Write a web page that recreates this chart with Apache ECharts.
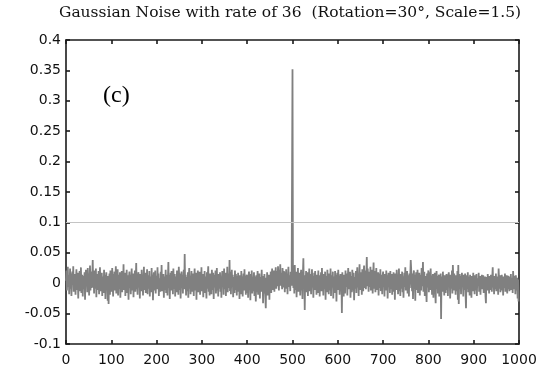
<!DOCTYPE html>
<html>
<head>
<meta charset="utf-8">
<script src="https://cdn.jsdelivr.net/npm/echarts@6/dist/echarts.min.js"></script>
<style>
  html, body { margin: 0; padding: 0; background: #fff; }
  #chart { width: 557px; height: 376px; }
</style>
</head>
<body>
<div id="chart"></div>
<script>
// Matched-filter output: one sample per index, 0..999
const signal = [
  .004,.021,-.012,.009,.027,-.006,.013,-.018,.002,.024,-.009,.016,-.021,.007,.019,-.003,.028,-.014,.011,-.007,
  .015,-.019,.006,.023,-.011,.003,.017,-.025,.010,-.004,.020,-.013,.008,.026,-.016,.001,.014,-.022,.012,.005,
  -.010,.018,-.027,.009,.022,-.005,.011,-.015,.025,-.002,.016,-.020,.007,.029,-.012,.004,.019,-.008,.013,.038,
  -.006,.012,-.017,.021,-.009,.003,.024,-.023,.010,.015,-.011,.006,.020,-.018,.002,.026,-.013,.009,-.004,.017,
  -.021,.011,.005,-.016,.022,-.007,.013,-.026,.008,.018,-.010,.003,-.029,.012,-.034,.006,.016,-.019,.021,-.008,
  .010,-.014,.025,.001,-.022,.015,-.005,.019,-.012,.007,.028,-.017,.011,-.003,.023,-.020,.004,.014,-.009,.018,
  -.024,.009,.002,.020,-.015,.012,-.006,.031,-.011,.005,.017,-.021,.008,-.002,.022,-.016,.013,.003,-.027,.010,
  .019,-.008,.014,-.018,.006,.024,-.012,.001,.016,-.023,.011,-.005,.021,-.014,.007,.033,-.010,.004,-.019,.013,
  .018,-.007,.009,-.025,.015,.002,-.013,.022,-.004,.012,-.020,.008,.027,-.011,.003,.017,-.016,.010,-.001,.023,
  -.018,.006,.013,-.009,.020,-.022,.011,.004,-.015,.025,-.006,.014,-.028,.009,.018,-.012,.002,.021,-.017,.007,
  .012,-.010,.026,-.004,.016,-.021,.008,.003,-.014,.019,-.007,.030,-.013,.010,-.002,.015,-.024,.011,.005,-.011,
  .022,-.016,.007,.014,-.020,.009,.035,-.008,.013,-.026,.004,.017,-.012,.020,-.005,.010,-.018,.024,.001,-.009,
  .015,-.022,.011,.006,-.015,.021,-.003,.012,-.019,.027,.008,-.011,.016,-.025,.004,.019,-.007,.013,-.017,.009,
  .022,-.010,.048,-.006,.014,-.020,.010,.002,-.013,.018,-.024,.007,.025,-.009,.012,-.018,.005,.020,-.014,.011,
  -.004,.016,-.021,.009,.024,-.012,.003,.017,-.027,.013,-.006,.021,-.015,.008,.001,.019,-.019,.012,-.008,.026,
  -.013,.006,.015,-.023,.010,-.002,.020,-.016,.011,.004,-.025,.018,-.009,.013,.028,-.014,.007,-.020,.016,-.003,
  .012,-.018,.022,.005,-.011,.017,-.026,.009,.014,-.007,.021,-.017,.003,.025,-.012,.010,-.022,.015,.002,-.009,
  .018,-.014,.011,-.024,.008,.020,-.005,.013,-.019,.024,-.010,.006,.017,-.021,.012,-.003,.027,-.015,.009,.016,
  -.008,.038,-.013,.019,-.018,.007,.022,-.006,.014,-.023,.010,.003,-.016,.021,-.011,.015,.005,-.020,.012,-.004,
  .017,-.014,.009,-.026,.013,.001,-.018,.020,-.009,.011,-.022,.006,.016,-.012,.023,-.007,.004,-.019,.010,.014,
  -.016,.008,-.024,.012,.019,-.010,.002,-.028,.015,-.005,.021,-.017,.009,-.013,.006,.018,-.021,.011,-.003,-.030,
  .013,-.015,.007,.020,-.019,.004,-.011,.016,-.025,.010,.003,-.014,.022,-.008,.012,-.033,.006,-.017,.015,-.005,
  -.022,-.041,.009,-.012,.018,-.020,.005,-.009,.014,-.027,.011,-.002,.019,-.016,.008,.024,-.011,.013,-.006,.021,
  -.014,.016,.003,.026,-.009,.012,.020,-.005,.028,.007,-.012,.022,.010,.031,-.004,.017,.009,-.010,.025,.014,
  -.007,.020,.012,-.015,.018,.004,.023,-.009,.015,-.018,.011,.027,-.006,.013,.002,-.013,.019,.008,-.004,.172,
  .352,.012,-.008,.021,-.017,.030,.006,-.011,.019,-.023,.014,.003,.025,-.014,.009,-.006,.017,-.020,.011,.022,
  -.012,.007,-.026,.016,.041,-.009,.013,-.044,.010,-.004,.020,-.015,.006,.018,-.021,.011,-.002,.024,-.013,.008,
  .015,-.018,.009,.023,-.007,.012,-.024,.004,.017,-.011,.020,-.003,.010,-.019,.014,.006,-.016,.021,-.008,.013,
  -.022,.011,.002,.018,-.013,.025,-.005,.009,-.020,.015,.003,-.010,.019,-.027,.012,.007,-.015,.022,-.004,.010,
  -.018,.016,.005,-.012,.024,-.021,.008,.013,-.007,.019,-.025,.011,.001,-.016,.020,-.009,.014,-.030,.006,.017,
  -.011,.022,-.004,.012,-.019,.009,.015,-.013,.003,-.049,.018,-.008,.010,-.022,.014,.005,-.017,.021,-.006,.011,
  .016,-.020,.008,.025,-.010,.013,-.003,.019,-.024,.007,.012,-.015,.022,.001,-.012,.017,-.028,.010,.004,-.009,
  .020,-.016,.011,.026,-.007,.014,-.021,.009,.031,-.011,.018,-.004,.012,-.019,.023,.006,-.013,.016,.029,-.008,
  .013,.021,-.010,.017,.043,-.005,.024,.008,-.014,.019,.011,-.006,.027,-.012,.015,.003,.022,-.017,.010,.034,
  -.009,.014,.020,-.015,.007,.025,-.011,.012,-.003,.018,-.020,.009,.016,-.008,.023,-.013,.005,.014,-.018,.011,
  .019,-.006,.010,-.022,.015,.002,-.012,.021,-.009,.013,-.025,.008,.017,-.004,.011,-.016,.020,-.010,.006,.015,
  -.019,.012,-.002,.018,-.014,.009,-.027,.016,.004,-.011,.022,-.007,.013,-.018,.010,.024,-.013,.006,-.021,.015,
  .003,-.009,.019,-.015,.011,-.024,.008,.017,-.006,.026,-.012,.014,-.001,.020,-.017,.009,.013,-.022,.016,-.008,
  .012,.038,.023,.005,-.013,.016,-.026,.010,.021,-.009,.014,-.029,.007,.018,-.011,.004,.022,-.016,.011,-.004,
  .017,-.020,.009,.014,-.012,.025,-.005,.010,.035,-.014,.008,.019,-.021,.012,.002,-.010,-.031,.016,-.007,.013,
  .021,-.015,.006,.018,-.011,.024,-.003,.012,-.019,.009,.015,-.024,.011,-.006,.017,-.013,-.033,.007,.020,-.009,
  .012,-.017,.004,.014,-.022,.008,-.010,.016,-.059,.011,.002,-.014,.019,-.008,.010,-.020,.013,.005,-.016,.009,
  .015,-.011,.007,-.021,.012,.018,-.006,.010,-.025,.014,.003,-.009,.021,-.017,.030,.008,-.012,.016,-.004,.011,
  -.019,.013,.006,-.013,.020,-.027,.030,-.034,.009,.015,-.010,.012,-.018,.007,.017,-.005,.010,-.022,.014,.002,
  -.011,.016,-.017,-.041,.008,.013,-.009,.018,-.015,.006,.011,-.020,.014,-.003,.009,-.024,.012,.005,-.013,.017,
  -.007,.010,-.018,.013,.002,-.012,.015,-.021,.008,.011,-.005,.017,-.014,.004,.012,-.019,.009,-.002,.014,-.010,
  .006,.013,-.016,.008,-.008,.011,-.021,-.033,.010,.003,-.012,.015,-.006,.009,-.017,.012,.001,-.011,.014,.007,
  -.014,.010,.026,-.007,.005,-.018,.012,.003,-.010,.016,-.013,.008,-.004,.011,-.019,.024,.006,-.009,.013,-.015,
  .009,-.002,.014,-.012,.007,-.020,.011,.004,-.008,.016,-.014,.010,-.001,.013,-.017,.008,.012,-.010,.005,-.013,
  .011,-.006,.015,-.011,.003,.009,-.016,.020,-.004,.012,-.010,.007,-.018,.013,.002,-.012,.009,-.025,.006,-.030
];

const threshold = 0.1;
const xRange = [0, 1000];
const yRange = [-0.1, 0.4];
const titleText = 'Gaussian Noise with rate of 36  (Rotation=30°, Scale=1.5)';
const panelTag = '(c)';

const chart = echarts.init(document.getElementById('chart'), null, { renderer: 'canvas' });

const frame = { color: '#1a1a1a', width: 1.6 };
const tickFont = { fontFamily: 'DejaVu Sans', fontSize: 14, color: '#111' };

function xAx(pos, labels) {
  return {
    type: 'value', position: pos, min: xRange[0], max: xRange[1], interval: 100,
    axisLine: { show: true, onZero: false, lineStyle: frame },
    axisTick: { show: true, inside: true, length: 4, lineStyle: frame },
    axisLabel: Object.assign({ show: labels, margin: 9, formatter: v => String(v) }, tickFont),
    splitLine: { show: false }
  };
}
function yAx(pos, labels) {
  return {
    type: 'value', position: pos, min: yRange[0], max: yRange[1], interval: 0.05,
    axisLine: { show: true, onZero: false, lineStyle: frame },
    axisTick: { show: true, inside: true, length: 4, lineStyle: frame },
    axisLabel: Object.assign({ show: labels, margin: 5 }, tickFont),
    splitLine: { show: false }
  };
}

chart.setOption({
  animation: false,
  backgroundColor: '#fff',
  graphic: [
    {
      // title centred over the plot area
      type: 'text', left: 59, top: 5,
      style: { text: titleText, font: '15.5px "DejaVu Serif"', fill: '#111' }
    },
    {
      type: 'text', left: 103, top: 84,
      style: { text: panelTag, font: '24px "Liberation Serif"', fill: '#000' }
    }
  ],
  grid: { left: 66, right: 38, top: 40, bottom: 32 },
  xAxis: [xAx('bottom', true), xAx('top', false)],
  yAxis: [yAx('left', true), yAx('right', false)],
  series: [{
    type: 'line',
    data: signal.map((v, i) => [i, v]),
    showSymbol: false,
    sampling: null,
    lineStyle: { color: '#808080', width: 1.8 },
    markLine: {
      silent: true, symbol: 'none', label: { show: false },
      lineStyle: { color: '#c4c4c4', width: 1, type: 'solid' },
      data: [{ yAxis: threshold }]
    },
    z: 2
  }]
});
</script>
</body>
</html>
